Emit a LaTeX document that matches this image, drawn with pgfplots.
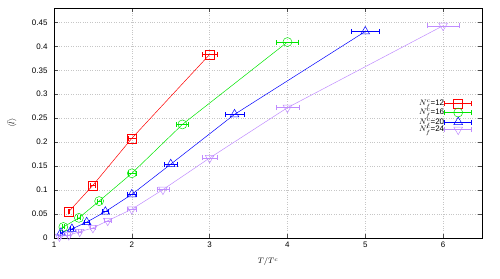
\documentclass[border=0pt]{standalone}
\usepackage{fontspec}
\setmainfont{Liberation Sans}
\usepackage{pgfplots}
\pgfplotsset{compat=1.18}
\definecolor{cred}{RGB}{255,0,0}
\definecolor{cgreen}{RGB}{0,230,0}
\definecolor{cblue}{RGB}{0,0,255}
\definecolor{cpurple}{RGB}{192,140,255}
\pgfplotsset{
  errleg/.style={legend image code/.code={
    \draw[mark repeat=2,mark phase=2] plot coordinates {(0bp,0bp) (13.5bp,0bp) (27bp,0bp)};
    \draw[mark=none] (0bp,-2.5bp)--(0bp,2.5bp) (27bp,-2.5bp)--(27bp,2.5bp);}},
}
\begin{document}
\begin{tikzpicture}
\begin{axis}[
  scale only axis, width=428bp, height=230bp,
  xmin=1, xmax=6.5, ymin=0, ymax=0.48,
  xtick={1,2,3,4,5,6},
  ytick={0,0.05,0.1,0.15,0.2,0.25,0.3,0.35,0.4,0.45},
  yticklabels={0,0.05,0.1,0.15,0.2,0.25,0.3,0.35,0.4,0.45},
  tick align=inside, tick pos=both, major tick length=4bp,
  grid=major, grid style={gray!45, dotted, line width=0.5pt},
  axis line style={line width=0.8pt},
  tick style={black!70, line width=0.5pt},
  ticklabel style={font=\fontsize{8}{9}\selectfont},
  yticklabel style={xshift=-3bp},
  /pgf/number format/assume math mode=true,
  xlabel={$T/T^{c}$},
  ylabel={$\langle\bar{l}\rangle$},
  xlabel style={at={(axis description cs:0.5,-0.104)}, anchor=center, font=\fontsize{8}{9}\selectfont},
  ylabel style={at={(axis description cs:-0.098,0.5)}, anchor=center, font=\fontsize{8}{9}\selectfont},
  legend style={draw=none, fill=none, at={(rel axis cs:0.977,0.605)}, anchor=north east,
    font=\fontsize{8}{8}\selectfont, row sep=0pt, inner sep=0pt,
    nodes={inner sep=0.3bp}},
  legend cell align=right, legend plot pos=right,
  every axis plot/.append style={line width=0.5pt},
  error bars/x dir=both, error bars/x explicit,
]
\addplot[cred, mark=square, mark size=4.5bp, errleg, error bars/error bar style={cred}, error bars/error mark options={cred, rotate=90, mark size=2.5bp}] coordinates {
 (1.19,0.055) +- (0.01,0)
 (1.50,0.110) +- (0.03,0)
 (2.00,0.208) +- (0.05,0)
 (3.00,0.383) +- (0.10,0)
};
\addlegendentry{$N^{c}_{f}$=12}
\addplot[cgreen, mark=o, mark size=4.5bp, errleg, error bars/error bar style={cgreen}, error bars/error mark options={cgreen, rotate=90, mark size=2.5bp}] coordinates {
 (1.12,0.023) +- (0.01,0)
 (1.32,0.042) +- (0.02,0)
 (1.58,0.077) +- (0.03,0)
 (2.00,0.135) +- (0.05,0)
 (2.65,0.237) +- (0.08,0)
 (4.00,0.409) +- (0.14,0)
};
\addlegendentry{$N^{c}_{f}$=16}
\addplot[cblue, mark=triangle, mark size=5bp, errleg, error bars/error bar style={cblue}, error bars/error mark options={cblue, rotate=90, mark size=2.5bp}] coordinates {
 (1.09,0.011) +- (0.01,0)
 (1.23,0.019) +- (0.02,0)
 (1.42,0.033) +- (0.03,0)
 (1.66,0.055) +- (0.04,0)
 (2.00,0.091) +- (0.06,0)
 (2.50,0.154) +- (0.08,0)
 (3.32,0.258) +- (0.12,0)
 (5.00,0.431) +- (0.18,0)
};
\addlegendentry{$N^{c}_{f}$=20}
\addplot[cpurple, mark=triangle, mark size=5bp, every mark/.append style={rotate=180}, errleg, error bars/error bar style={cpurple}, error bars/error mark options={cpurple, rotate=90, mark size=2.5bp}] coordinates {
 (1.07,0.003) +- (0.01,0)
 (1.19,0.006) +- (0.02,0)
 (1.33,0.013) +- (0.02,0)
 (1.50,0.021) +- (0.03,0)
 (1.69,0.036) +- (0.04,0)
 (2.00,0.060) +- (0.06,0)
 (2.40,0.101) +- (0.08,0)
 (3.00,0.167) +- (0.10,0)
 (4.00,0.272) +- (0.15,0)
 (6.00,0.443) +- (0.21,0)
};
\addlegendentry{$N^{c}_{f}$=24}
\end{axis}
\path ([shift={(-54bp,-41bp)}]current axis.south west) rectangle ([shift={(18bp,8bp)}]current axis.north east);
\end{tikzpicture}
\end{document}
